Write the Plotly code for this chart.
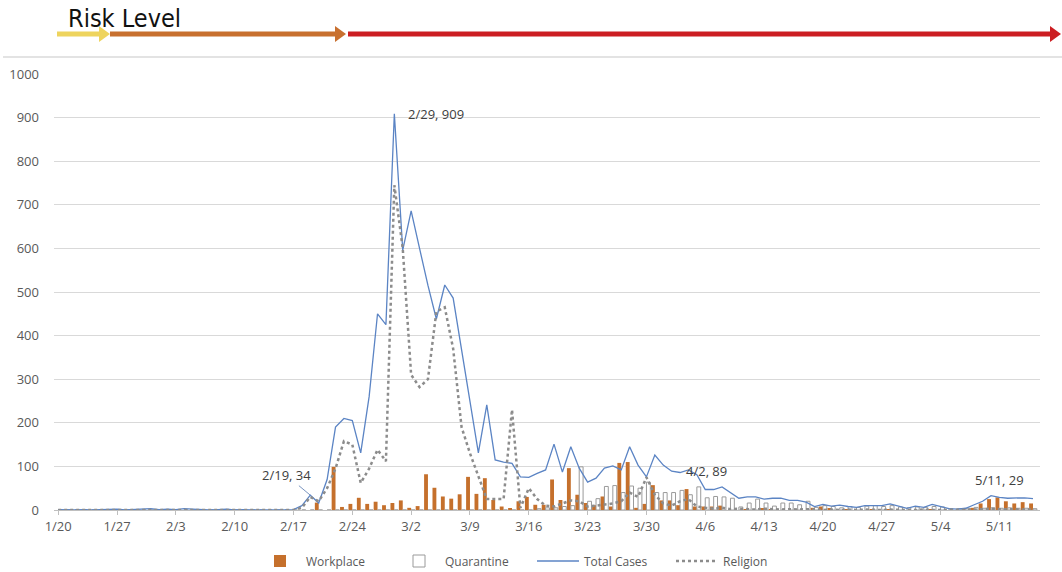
import pandas as pd
import plotly.graph_objects as go

# ---------------- data ----------------
dates = pd.date_range("2020-01-20", "2020-05-15", freq="D")

total_jan = [1, 0, 0, 1, 0, 1, 1, 2, 0, 1, 2, 3]
total_feb = [1, 2, 1, 3, 2, 1, 0, 1, 2, 0, 1, 0, 0, 0, 0, 0, 1, 10, 34, 16, 70, 190, 210, 205, 131, 260, 450, 425, 909]
total_mar = [596, 686, 600, 515, 438, 516, 486, 367, 248, 131, 241, 115, 110, 107, 76, 75, 84, 92, 151, 87,
             145, 96, 64, 73, 96, 101, 92, 145, 103, 76, 126]
total_apr = [103, 89, 86, 92, 81, 47, 47, 53, 39, 27, 30, 30, 25, 27, 27, 22, 22, 18, 8, 13,
             9, 11, 8, 6, 10, 10, 10, 14, 9, 4]
total_may = [9, 6, 13, 8, 3, 2, 4, 12, 20, 33, 29, 27, 27, 28, 26]

religion_jan = [0] * 12
religion_feb = [0] * 17 + [5, 30, 20, 50, 95, 158, 150, 62, 95, 138, 112, 745]
religion_mar = [600, 310, 282, 300, 455, 465, 370, 190, 130, 75, 25, 25, 25, 230, 5, 50, 25, 10, 8, 15,
                22, 20, 8, 10, 12, 15, 20, 40, 30, 75, 35]
religion_apr = [15, 10, 20, 25, 8, 5, 3, 5, 2, 3, 2, 1, 3, 2, 1, 2, 1, 2, 1, 0,
                1, 0, 1, 0, 1, 0, 0, 1, 0, 0]
religion_may = [0, 1, 0, 0, 0, 0, 0, 1, 2, 3, 2, 2, 1, 2, 1]

workplace_jan = [0] * 12
workplace_feb = [0] * 19 + [17, 0, 99, 7, 14, 28, 14, 19, 11, 16]
workplace_mar = [22, 5, 9, 82, 51, 31, 26, 36, 76, 37, 73, 23, 8, 4, 20, 30, 12, 12, 70, 23,
                 96, 35, 16, 11, 31, 8, 108, 110, 5, 14, 57]
workplace_apr = [22, 22, 11, 48, 8, 8, 8, 10, 0, 0, 2, 0, 3, 2, 0, 0, 1, 0, 5, 8,
                 3, 0, 1, 0, 0, 2, 0, 1, 0, 0]
workplace_may = [0, 0, 1, 0, 0, 0, 1, 5, 15, 25, 29, 20, 15, 18, 15]

quarantine_jan = [0] * 12
quarantine_feb = [0] * 29
quarantine_mar = [0] * 16 + [3, 5, 5, 8, 10, 99, 20, 26, 54, 56, 40, 55, 50, 64, 40]
quarantine_apr = [40, 40, 45, 35, 53, 28, 31, 30, 27, 7, 16, 25, 16, 9, 16, 16, 12, 20, 6, 10,
                  8, 5, 8, 6, 9, 10, 8, 10, 7, 5]
quarantine_may = [7, 6, 8, 7, 3, 3, 4, 6, 4, 5, 4, 5, 4, 4, 3]

total = total_jan + total_feb + total_mar + total_apr + total_may
religion = religion_jan + religion_feb + religion_mar + religion_apr + religion_may
workplace = workplace_jan + workplace_feb + workplace_mar + workplace_apr + workplace_may
quarantine = quarantine_jan + quarantine_feb + quarantine_mar + quarantine_apr + quarantine_may
for s in (total, religion, workplace, quarantine):
    assert len(s) == len(dates), len(s)

tick_dates = pd.date_range("2020-01-20", "2020-05-11", freq="7D")
tick_labels = [f"{d.month}/{d.day}" for d in tick_dates]

# ---------------- figure ----------------
W, H = 1062, 572
L, R, T, B = 54, 1040, 74, 510   # plot area in page pixels


def px(x):
    return (x - L) / (R - L)


def py(y):
    return (B - y) / (B - T)


fig = go.Figure()
fig.add_trace(go.Bar(x=dates, y=workplace, name="Workplace",
                     marker=dict(color="#C5702C", line=dict(width=0))))
fig.add_trace(go.Bar(x=dates, y=quarantine, name="Quarantine",
                     marker=dict(color="white", line=dict(color="#9a9a9a", width=1))))
fig.add_trace(go.Scatter(x=dates, y=total, name="Total Cases", mode="lines",
                         line=dict(color="#5B84C4", width=1.3)))
fig.add_trace(go.Scatter(x=dates, y=religion, name="Religion", mode="lines",
                         line=dict(color="#8c8c8c", width=2.5, dash="dot")))

shapes = []
# separator line
shapes.append(dict(type="line", xref="paper", yref="paper", x0=px(3), x1=px(1062), y0=py(57), y1=py(57),
                   line=dict(color="#e3e3e3", width=2)))


def arrow(x0, tip, color):
    yc = 34
    hl = 11
    shapes.append(dict(type="rect", xref="paper", yref="paper", x0=px(x0), x1=px(tip - hl + 1),
                       y0=py(yc + 2.6), y1=py(yc - 2.6), line=dict(width=0), fillcolor=color))
    path = (f"M {px(tip - hl)} {py(yc - 8)} L {px(tip)} {py(yc)} L {px(tip - hl)} {py(yc + 8)} Z")
    shapes.append(dict(type="path", xref="paper", yref="paper", path=path, line=dict(width=0), fillcolor=color))


arrow(57, 110, "#EED45E")
arrow(110, 346, "#C8702F")
arrow(348, 1061, "#CC1E22")

annotations = [
    dict(xref="paper", yref="paper", x=px(66), y=py(18), text="Risk Level", showarrow=False,
         xanchor="left", yanchor="middle",
         font=dict(family="Liberation Sans Narrow, Arial Narrow, DejaVu Sans Condensed, sans-serif",
                   size=25, color="#111111")),
    dict(x="2020-02-29", y=909, text="2/29, 909", showarrow=False, xanchor="left", yanchor="middle",
         xshift=12, font=dict(size=13, color="#404040")),
    dict(x="2020-02-19", y=34, text="2/19, 34", showarrow=True, arrowhead=0, arrowwidth=1,
         arrowcolor="#7a95c0", ax=-24, ay=-20, standoff=0, font=dict(size=13, color="#404040")),
    dict(x="2020-04-02", y=89, text="4/2, 89", showarrow=False, xanchor="left", yanchor="middle",
         xshift=12, font=dict(size=13, color="#404040")),
    dict(x="2020-05-11", y=29, text="5/11, 29", showarrow=False, xanchor="center", yanchor="bottom",
         yshift=6, font=dict(size=13, color="#404040")),
]

fig.update_layout(
    width=W, height=H,
    margin=dict(l=L, r=W - R, t=T, b=H - B, autoexpand=False),
    paper_bgcolor="white", plot_bgcolor="white",
    font=dict(family="Open Sans, Noto Sans, sans-serif", size=13, color="#595959"),
    barmode="group", bargap=0.08, bargroupgap=0.0,
    showlegend=True,
    legend=dict(orientation="h", x=px(532), xanchor="center", y=py(561), yanchor="middle",
                font=dict(size=12, color="#595959"), bgcolor="rgba(0,0,0,0)",
                itemwidth=42, entrywidth=82, entrywidthmode="pixels"),
    shapes=shapes,
    annotations=annotations,
)
fig.update_xaxes(
    type="date",
    range=["2020-01-19 12:00", "2020-05-15 20:00"],
    tickvals=tick_dates, ticktext=tick_labels,
    showgrid=False, showline=True, linecolor="#bfbfbf", linewidth=1,
    ticks="outside", ticklen=4, tickcolor="#bfbfbf",
    tickfont=dict(size=13, color="#595959"),
    zeroline=False, automargin=False,
)
fig.update_yaxes(
    range=[0, 1000], dtick=100,
    showgrid=True, gridcolor="#d9d9d9", gridwidth=1,
    zeroline=False, showline=False,
    ticks="", ticklabelstandoff=14,
    tickfont=dict(size=13, color="#595959"),
    automargin=False,
)

# remove the browser's default 8px body margin so page pixels equal figure pixels
fig.write_html("out.html", config={"displayModeBar": False},
               post_script="document.body.style.margin='0';")
